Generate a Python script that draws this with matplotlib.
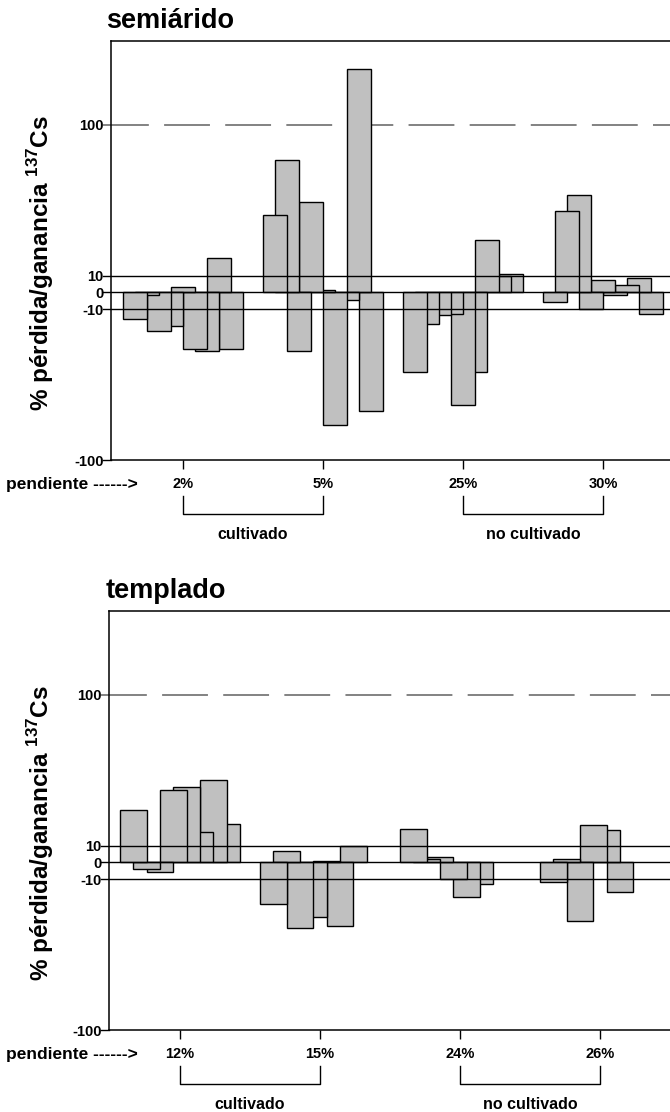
import numpy as np
import matplotlib
matplotlib.use('Agg')
import matplotlib.pyplot as plt
from matplotlib.transforms import blended_transform_factory

plt.rcParams['font.family'] = ['Liberation Sans', 'DejaVu Sans']
plt.rcParams['font.weight'] = 'bold'
plt.rcParams['mathtext.fontset'] = 'custom'
plt.rcParams['mathtext.bf'] = 'Liberation Sans:bold'
plt.rcParams['mathtext.rm'] = 'Liberation Sans:bold'

# % loss/gain of 137Cs per sampling site, grouped by slope
semi_slopes = ['2%', '5%', '25%', '30%']
semi_2 = [-15.7, -1.8, -22.9, -19.9, 3.2, -33.8, -34.8, 20.3, -33.8]
semi_5 = [46.3, 79.0, -34.8, 54.1, 1.4, -78.9, -4.8, 133.0, -70.8]
semi_25 = [-47.7, -18.9, -13.7, -12.9, -67.0, -47.7, 31.2, 9.9, 11.1]
semi_30 = [-5.8, 48.3, 58.3, -9.7, 7.2, -1.8, 4.2, 8.3, -12.9]

temp_slopes = ['12%', '15%', '24%', '26%']
temp_12 = [31.0, -4.0, -6.0, 42.9, 44.9, 18.1, 48.9, 23.1]
temp_15 = [-24.9, 7.0, -39.2, -32.8, 1.0, -37.8, 9.9, np.nan]
temp_24 = [20.1, 2.0, 3.0, -9.9, -20.9, -12.9, np.nan, np.nan]
temp_26 = [-11.9, 2.0, -35.2, 22.1, 19.1, -17.9, np.nan, np.nan]

land_use = ['cultivado', 'no cultivado']
ytick_vals = [-100, -10, 0, 10, 100]

W, H = 670, 1112
GROUP_W = 0.857


def draw_panel(ax, groups, slopes, title, xmin, xmax, top_px):
    for xc, vals in enumerate(groups):
        vals = np.asarray(vals, dtype=float)
        n = len(vals)
        step = GROUP_W / (n + 1)
        xs = xc + (np.arange(n) - (n - 1) / 2) * step
        ok = ~np.isnan(vals)
        # reversed so the left bar of each overlapping pair ends up on top
        ax.bar(xs[ok][::-1], vals[ok][::-1], width=2 * step, color='#c0c0c0',
               edgecolor='black', linewidth=1.0, zorder=2)

    trans = blended_transform_factory(ax.transAxes, ax.transData)
    ax.plot([-0.014, 1], [100, 100], transform=trans, color='#606060', lw=1.1,
            ls=(0, (30, 10)), zorder=1, clip_on=False)
    for y in [10, 0, -10]:
        ax.plot([-0.014, 1], [y, y], transform=trans, color='black', lw=1.0,
                zorder=3, clip_on=False)
    ax.plot([-0.014, 0], [-100, -100], transform=trans, color='black', lw=1.0,
            clip_on=False)

    ax.set_xlim(xmin, xmax)
    ax.set_ylim(-100, 150)
    ax.set_yticks(ytick_vals)
    ax.set_yticklabels([str(v) for v in ytick_vals], fontsize=10.5, fontweight='bold')
    ax.tick_params(axis='y', length=0, pad=5)
    ax.set_xticks(range(len(slopes)))
    ax.set_xticklabels(slopes, fontsize=10.5, fontweight='bold')
    ax.tick_params(axis='x', length=6.5, width=1.0, pad=6, direction='out')
    ax.spines['right'].set_visible(False)
    for s in ['left', 'top', 'bottom']:
        ax.spines[s].set_linewidth(1.1)

    # brackets grouping the slopes by land use
    btrans = blended_transform_factory(ax.transData, ax.transAxes)
    for (a, b), name in zip([(0, 1), (2, 3)], land_use):
        ax.plot([a, a, b, b], [-0.087, -0.128, -0.128, -0.087], transform=btrans,
                color='black', lw=1.0, clip_on=False)
        ax.text((a + b) / 2, -0.178, name, transform=btrans, ha='center',
                va='center', fontsize=11.5, fontweight='bold')

    bottom_px = top_px + 419
    fig.text(106 / W, 1 - (top_px - 20) / H, title, fontsize=19.5,
             fontweight='bold', ha='left', va='center')
    fig.text(6 / W, 1 - (bottom_px + 24) / H, 'pendiente ------>', fontsize=12.5,
             fontweight='bold', ha='left', va='center')
    fig.text(41 / W, 1 - (top_px + 222) / H,
             r'% pérdida/ganancia $^{\mathbf{137}}$Cs', fontsize=17.5,
             fontweight='bold', rotation=90, ha='center', va='center')


fig = plt.figure(figsize=(W / 100, H / 100), dpi=100)

ax1 = fig.add_axes([110.7 / W, 1 - 460 / H, 1 - 110.7 / W, 419 / H])
draw_panel(ax1, [semi_2, semi_5, semi_25, semi_30], semi_slopes, 'semiárido',
           -72.3 / 140, 487 / 140, 41)

ax2 = fig.add_axes([108.7 / W, 1 - 1030 / H, 1 - 108.7 / W, 419 / H])
draw_panel(ax2, [temp_12, temp_15, temp_24, temp_26], temp_slopes, 'templado',
           -71.3 / 140, 490 / 140, 611)

fig.savefig('out.png', dpi=100)
